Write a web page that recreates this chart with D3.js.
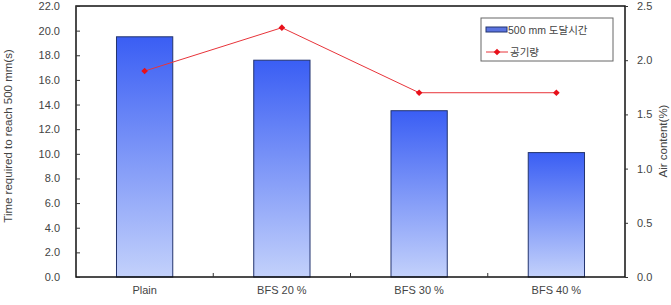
<!DOCTYPE html>
<html>
<head>
<meta charset="utf-8">
<script src="https://cdn.jsdelivr.net/npm/d3@7"></script>
<style>
body { margin:0; background:#fff; }
text { font-family: "Liberation Sans", Arial, sans-serif; fill:#444; }
</style>
</head>
<body>
<svg width="671" height="305"></svg>
<script>
// ---------data-----------
var categories = ["Plain", "BFS 20 %", "BFS 30 %", "BFS 40 %"]
var timeValues = [19.5, 17.6, 13.5, 10.1]
var airValues = [1.9, 2.3, 1.7, 1.7]
var leftTicks = [0, 2, 4, 6, 8, 10, 12, 14, 16, 18, 20, 22]
var rightTicks = [0, 0.5, 1.0, 1.5, 2.0, 2.5]
var seriesNames = ["500 mm 도달시간", "공기량"]

var screen = {width:671, height:305}
var margins = {left:76, right:46, top:6, bottom:28}
var graph = {
	width: screen.width - margins.left - margins.right,
	height: screen.height - margins.top - margins.bottom
}

var svg = d3.select("svg")

var xScale = d3.scaleBand()
	.domain(categories)
	.range([0, graph.width])
	.paddingInner(0.59)
	.paddingOuter(0.295)

var yScale = d3.scaleLinear().domain([0, 22]).range([graph.height, 0])
var yScale2 = d3.scaleLinear().domain([0, 2.5]).range([graph.height, 0])

// diamond marker, square turned 45 degrees
var diamond = d3.symbol().type(d3.symbolSquare).size(22)

// gradient for bars
var grad = svg.append("defs").append("linearGradient")
	.attr("id", "barGrad").attr("x1", 0).attr("y1", 0).attr("x2", 0).attr("y2", 1)
grad.append("stop").attr("offset", "0%").attr("stop-color", "#3a5ef4")
grad.append("stop").attr("offset", "100%").attr("stop-color", "#c3d1fb")

var target = svg.append("g")
	.attr("transform", "translate(" + margins.left + "," + margins.top + ")")

// bars
target.selectAll("rect.bar")
	.data(timeValues)
	.enter()
	.append("rect")
	.attr("class", "bar")
	.attr("x", function(d, i) { return xScale(categories[i]) })
	.attr("y", function(d) { return yScale(d) })
	.attr("width", xScale.bandwidth())
	.attr("height", function(d) { return graph.height - yScale(d) })
	.attr("fill", "url(#barGrad)")
	.attr("stroke", "#23346e")
	.attr("stroke-width", 1)

// plot frame
target.append("rect")
	.attr("width", graph.width).attr("height", graph.height)
	.attr("fill", "none").attr("stroke", "#111").attr("stroke-width", 1.5)

// line
var line = d3.line()
	.x(function(d, i) { return xScale(categories[i]) + xScale.bandwidth() / 2 })
	.y(function(d) { return yScale2(d) })

target.append("path")
	.datum(airValues)
	.attr("d", line)
	.attr("fill", "none")
	.attr("stroke", "#e8343a")
	.attr("stroke-width", 1)

target.selectAll("path.pt")
	.data(airValues)
	.enter()
	.append("path")
	.attr("class", "pt")
	.attr("d", diamond)
	.attr("transform", function(d, i) {
		return "translate(" + (xScale(categories[i]) + xScale.bandwidth() / 2) + "," + yScale2(d) + ") rotate(45)"
	})
	.attr("fill", "#e8101a")

// ---------axes---------
var yAxis = d3.axisLeft(yScale).tickValues(leftTicks).tickFormat(d3.format(".1f")).tickSize(4).tickPadding(12)
var gy = target.append("g").call(yAxis)
gy.select(".domain").remove()
gy.selectAll(".tick line").attr("x2", 4).attr("x1", 0).attr("stroke", "#333")
gy.selectAll("text").style("font-size", "11px")

var yAxis2 = d3.axisRight(yScale2).tickValues(rightTicks).tickFormat(d3.format(".1f")).tickSize(3).tickPadding(9)
var gy2 = target.append("g").attr("transform", "translate(" + graph.width + ",0)").call(yAxis2)
gy2.select(".domain").remove()
gy2.selectAll(".tick line").attr("stroke", "#333")
gy2.selectAll("text").style("font-size", "11px")

// x category labels
target.selectAll("text.cat")
	.data(categories)
	.enter()
	.append("text")
	.attr("class", "cat")
	.attr("x", function(d) { return xScale(d) + xScale.bandwidth() / 2 })
	.attr("y", graph.height + 17)
	.attr("text-anchor", "middle")
	.style("font-size", "11px")
	.text(function(d) { return d })

// minor ticks between categories
target.selectAll("line.sep")
	.data(categories.slice(1))
	.enter()
	.append("line")
	.attr("class", "sep")
	.attr("x1", function(d) { return xScale(d) - xScale.step() * xScale.paddingInner() / 2 })
	.attr("x2", function(d) { return xScale(d) - xScale.step() * xScale.paddingInner() / 2 })
	.attr("y1", graph.height).attr("y2", graph.height - 4)
	.attr("stroke", "#333")

// ---------labels---------
svg.append("text")
	.attr("transform", "translate(12," + 136 + ") rotate(-90)")
	.attr("text-anchor", "middle")
	.style("font-size", "11.5px")
	.text("Time required to reach 500 mm(s)")

svg.append("text")
	.attr("transform", "translate(667," + 141 + ") rotate(-90)")
	.attr("text-anchor", "middle")
	.style("font-size", "11.5px")
	.text("Air content(%)")

// ---------legend---------
var legend = svg.append("g").attr("transform", "translate(481,18)")
legend.append("rect")
	.attr("width", 132).attr("height", 43)
	.attr("fill", "#fff").attr("stroke", "#666").attr("stroke-width", 1)
legend.append("rect")
	.attr("x", 5).attr("y", 9).attr("width", 21).attr("height", 5)
	.attr("fill", "#5a73e0").attr("stroke", "#23346e")
legend.append("text")
	.attr("x", 27).attr("y", 15.5)
	.style("font-size", "10.5px")
	.style("font-family", "'Liberation Sans', 'Noto Sans CJK KR', sans-serif")
	.text(seriesNames[0])
legend.append("line")
	.attr("x1", 5).attr("x2", 27).attr("y1", 34).attr("y2", 34)
	.attr("stroke", "#e8343a")
legend.append("path")
	.attr("d", diamond)
	.attr("transform", "translate(16,34) rotate(45)")
	.attr("fill", "#e8101a")
legend.append("text")
	.attr("x", 29).attr("y", 38)
	.style("font-size", "10.5px")
	.style("font-family", "'Noto Sans CJK KR', sans-serif")
	.text(seriesNames[1])
</script>
</body>
</html>
